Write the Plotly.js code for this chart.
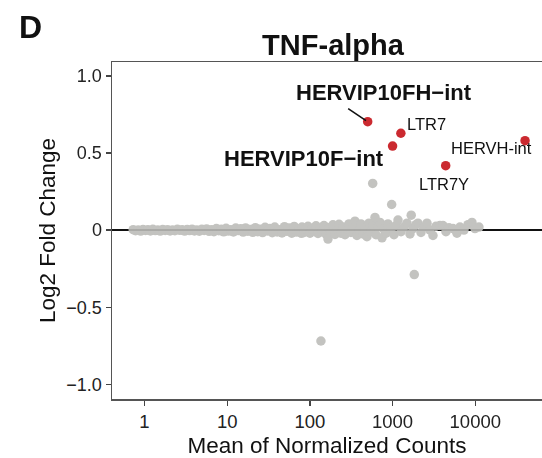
<!DOCTYPE html>
<html>
<head>
<meta charset="utf-8">
<script src="https://cdn.plot.ly/plotly-3.0.1.min.js"></script>
<style>html,body{margin:0;padding:0;background:#fff;}#chart{width:542px;height:458px;}</style>
</head>
<body>
<div id="chart"></div>
<script>
// Gray (non-significant) features: mean of normalized counts and log2 fold change
const grayCounts = [
  0.73, 0.78, 0.84, 0.9, 0.96, 1.03, 1.1, 1.18, 1.26, 1.35, 1.45, 1.55, 1.66, 1.78, 1.9, 2.04, 2.18, 2.33, 2.5, 2.67,
  2.86, 3.06, 3.28, 3.51, 3.76, 4.02, 4.3, 4.6, 4.93, 5.27, 5.64, 6.04, 6.46, 6.91, 7.4, 7.92, 8.47, 9.06, 9.7, 10.4,
  11.1, 11.9, 12.7, 13.6, 14.6, 15.6, 16.7, 17.8, 19.1, 20.4, 21.9, 23.4, 25.0, 26.8, 28.7, 30.7, 32.8, 35.1, 37.6, 40.2,
  43.0, 46.0, 49.3, 52.7, 56.4, 60.4, 64.6, 69.1, 74.0, 79.1,
  80.3, 84.9, 89.7, 94.9, 100.3, 106, 112, 118.5, 125.3, 132.5, 140, 148, 156.6, 165.5, 170, 180, 190, 201, 212.7, 225,
  237.7, 251.4, 265.8, 281, 297, 314, 332, 351, 371, 393, 415, 439, 464, 490, 518, 548, 579, 630, 666, 704,
  745, 787, 832, 880, 957, 1040, 1100, 1163, 1264, 1374, 1494, 1624, 1765, 1919, 2029, 2206, 2398, 2607, 2833, 3080,
  3348, 3742, 4068, 4423, 4808, 5374, 6007, 6530, 7299, 8159, 9120, 9914, 11080,
  575, 975, 1680, 613, 1830, 136
];
const grayLfc = [
  0.003, -0.004, 0.001, -0.006, 0.004, -0.002, 0.002, -0.005, 0.005, -0.003, 0.0, -0.006, 0.004, -0.002, 0.003, -0.005, 0.001, -0.004, 0.005, -0.001,
  0.002, -0.006, 0.004, -0.003, 0.006, -0.005, 0.001, -0.007, 0.005, -0.002, 0.008, -0.008, 0.003, -0.01, 0.01, -0.004, 0.006, -0.011, 0.012, -0.006,
  0.002, -0.012, 0.013, -0.003, 0.009, -0.013, 0.014, -0.007, 0.004, -0.014, 0.016, -0.01, 0.006, -0.016, 0.018, -0.005, 0.011, -0.017, 0.02, -0.012,
  0.003, -0.018, 0.022, -0.008, 0.014, -0.02, 0.024, -0.013, 0.008, -0.021,
  0.02, -0.015, 0.005, 0.025, -0.02, 0.01, -0.005, 0.028, -0.022, 0.012, -0.01, 0.03, -0.025, -0.058, 0.015, -0.012, 0.034, -0.028, 0.005, 0.038,
  -0.02, 0.02, -0.03, 0.01, 0.04, -0.015, 0.025, 0.058, -0.035, 0.0, 0.04, -0.025, 0.015, -0.043, 0.045, -0.01, 0.03, -0.03, 0.02, 0.05,
  -0.05, 0.005, -0.02, 0.04, 0.015, -0.03, 0.03, 0.065, -0.01, 0.02, 0.045, -0.025, 0.01, 0.035, 0.045, -0.015, 0.02, 0.045, 0.0, -0.035,
  0.025, 0.03, 0.03, -0.01, 0.015, 0.01, -0.02, 0.02, 0.0, 0.035, 0.05, 0.01, 0.02,
  0.303, 0.166, 0.097, 0.082, -0.288, -0.719
];

// Highlighted (significant) repeats
const redNames  = ['HERVIP10FH\u2212int', 'LTR7', 'HERVIP10F\u2212int', 'HERVH-int', 'LTR7Y'];
const redCounts = [500, 1260, 1000, 40000, 4390];
const redLfc    = [0.703, 0.628, 0.545, 0.580, 0.418];
const redBold   = [true, false, true, false, false];

// Axis ticks
const xTickVals = [1, 10, 100, 1000, 10000];
const xTickText = ['1', '10', '100', '1000', '10000'];
const yTickVals = [-1, -0.5, 0, 0.5, 1];
const yTickText = ['\u22121.0', '\u22120.5', '0', '0.5', '1.0'];

// label offsets (pixels) relative to each highlighted point
const labelShiftX = [16, 26, -89, -34, -2];
const labelShiftY = [29, 9, -12, -7, -18];

const FONT = 'Liberation Sans, Arial, Helvetica, sans-serif';

const traces = [
  {
    type: 'scatter', mode: 'markers', x: grayCounts, y: grayLfc, showlegend: false, hoverinfo: 'skip',
    opacity: 0.9,
    marker: {size: 9.5, color: '#bdbdb9', line: {width: 0}}
  },
  {
    type: 'scatter', mode: 'markers', x: redCounts, y: redLfc, showlegend: false, hoverinfo: 'skip',
    marker: {size: 9.5, color: '#cb2a30', line: {width: 0}}
  }
];

const annotations = redNames.map((n, i) => ({
  x: Math.log10(redCounts[i]), y: redLfc[i], xref: 'x', yref: 'y',
  text: redBold[i] ? '<b>' + n + '</b>' : n,
  showarrow: false, xshift: labelShiftX[i], yshift: labelShiftY[i],
  xanchor: 'center', yanchor: 'middle',
  font: {family: FONT, size: redBold[i] ? 22 : 16.5, color: '#111'}
}));
// leader line for HERVIP10FH-int
annotations.push({
  x: Math.log10(redCounts[0]), y: redLfc[0], xref: 'x', yref: 'y', text: '',
  showarrow: true, arrowhead: 0, arrowwidth: 1.6, arrowcolor: '#111',
  ax: -21, ay: -14, standoff: 2
});
// panel letter
annotations.push({
  x: -0.221, y: 1.104, xref: 'paper', yref: 'paper', text: '<b>D</b>', showarrow: false,
  xanchor: 'left', yanchor: 'middle', font: {family: FONT, size: 32, color: '#111'}
});

const layout = {
  width: 542, height: 458,
  margin: {l: 112, r: 0, t: 62, b: 59, pad: 0},
  paper_bgcolor: '#fff', plot_bgcolor: '#fff',
  font: {family: FONT, color: '#222'},
  title: {
    text: '<b>TNF-alpha</b>', font: {family: FONT, size: 29, color: '#111'},
    xref: 'container', yref: 'container', x: 333 / 542, xanchor: 'center', y: 1 - 45 / 458, yanchor: 'middle'
  },
  xaxis: {
    type: 'log', range: [-0.393, 4.807],
    tickvals: xTickVals, ticktext: xTickText,
    ticks: 'outside', ticklen: 5, tickwidth: 1.3, tickcolor: '#444',
    showline: true, linecolor: '#555', linewidth: 1.5, mirror: true,
    showgrid: false, zeroline: false,
    tickfont: {family: FONT, size: 18.5, color: '#222'},
    title: {text: 'Mean of Normalized Counts', font: {family: FONT, size: 22.5, color: '#111'}, standoff: 8}
  },
  yaxis: {
    range: [-1.095, 1.09],
    tickvals: yTickVals, ticktext: yTickText,
    ticks: 'outside', ticklen: 5, tickwidth: 1.3, tickcolor: '#444',
    showline: true, linecolor: '#555', linewidth: 1.5, mirror: false,
    showgrid: false, zeroline: true, zerolinecolor: '#111', zerolinewidth: 1.3,
    tickfont: {family: FONT, size: 18, color: '#222'},
    title: {text: 'Log2 Fold Change', font: {family: FONT, size: 22.5, color: '#111'}, standoff: 4}
  },
  annotations: annotations
};

Plotly.newPlot('chart', traces, layout, {displayModeBar: false, staticPlot: true});
</script>
</body>
</html>
